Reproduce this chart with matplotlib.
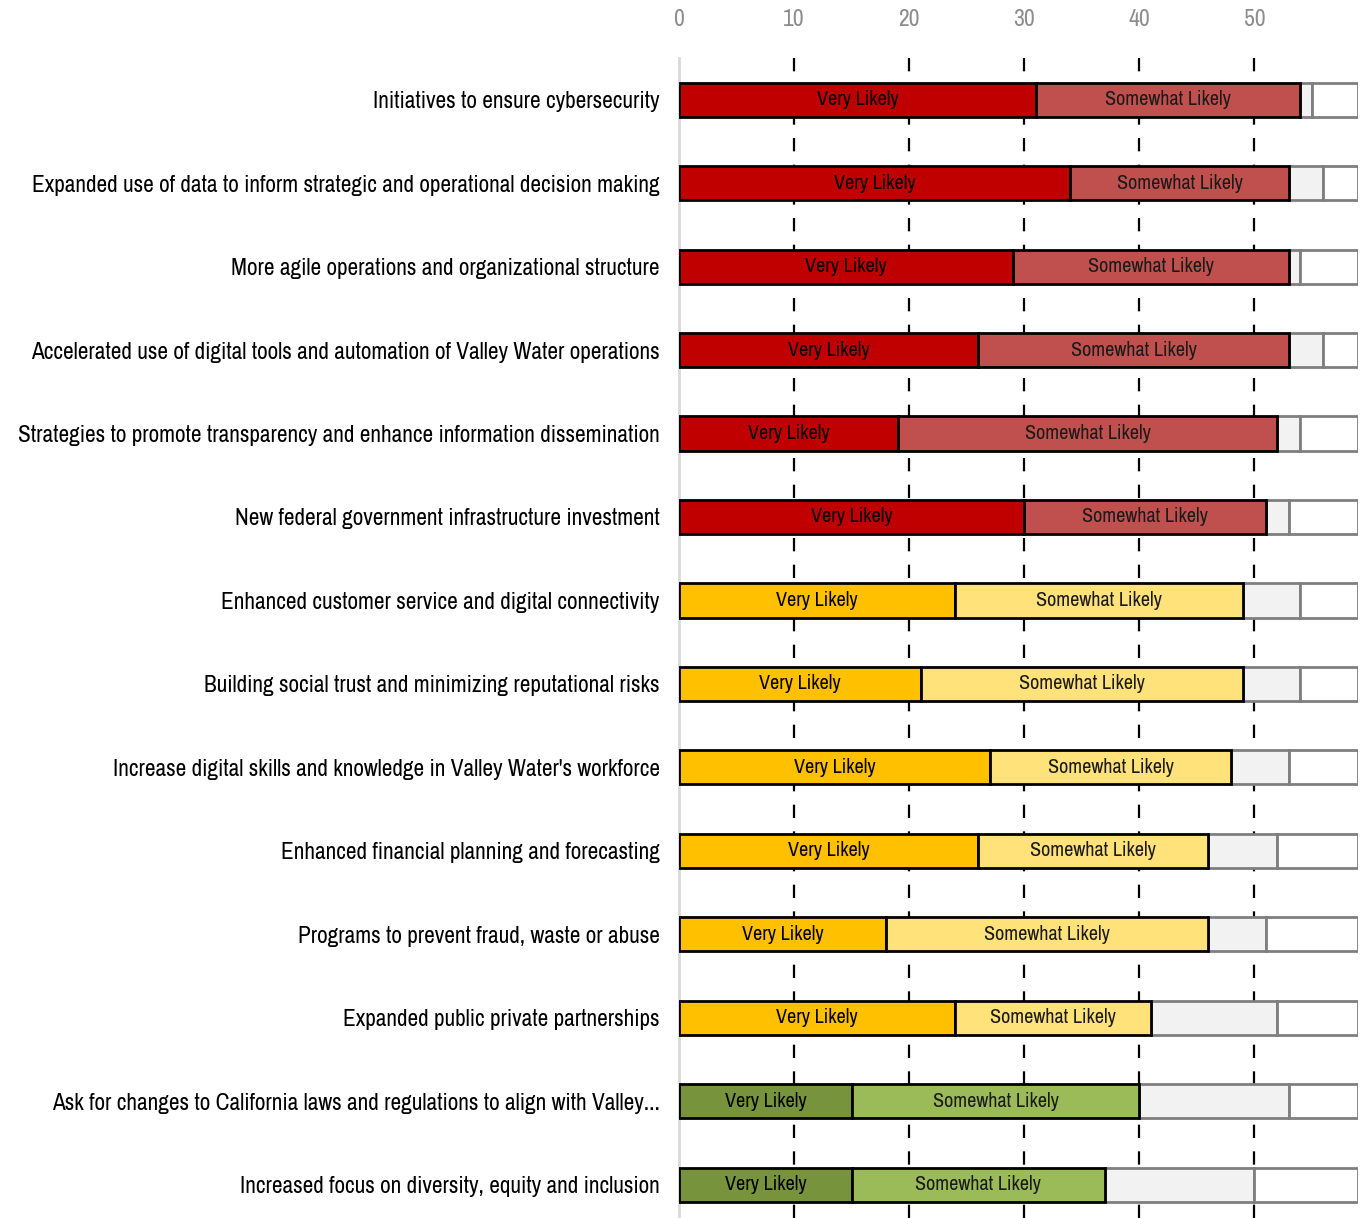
import numpy as np
import matplotlib
matplotlib.use('Agg')
import matplotlib.pyplot as plt
from matplotlib import font_manager

categories = ['Initiatives to ensure cybersecurity',
              'Expanded use of data to inform strategic and operational decision making',
              'More agile operations and organizational structure',
              'Accelerated use of digital tools and automation of Valley Water operations',
              'Strategies to promote transparency and enhance information dissemination',
              'New federal government infrastructure investment',
              'Enhanced customer service and digital connectivity',
              'Building social trust and minimizing reputational risks',
              "Increase digital skills and knowledge in Valley Water's workforce",
              'Enhanced financial planning and forecasting',
              'Programs to prevent fraud, waste or abuse',
              'Expanded public private partnerships',
              'Ask for changes to California laws and regulations to align with Valley...',
              'Increased focus on diversity, equity and inclusion']
very_likely = [31, 34, 29, 26, 19, 30, 24, 21, 27, 26, 18, 24, 15, 15]
somewhat_likely = [23, 19, 24, 27, 33, 21, 25, 28, 21, 20, 28, 17, 25, 22]
not_likely = [1, 3, 1, 3, 2, 2, 5, 5, 5, 6, 5, 11, 13, 13]
not_at_all = [4, 3, 5, 3, 5, 6, 5, 5, 6, 7, 8, 7, 6, 9]
tiers = ['red'] * 6 + ['yellow'] * 6 + ['green'] * 2

dark = {'red': '#C00000', 'yellow': '#FFC000', 'green': '#77933C'}
light = {'red': '#C0504D', 'yellow': '#FFE27A', 'green': '#9BBB59'}

# prefer a narrow face if one is installed
names = sorted({f.name for f in font_manager.fontManager.ttflist})
fam = 'Liberation Sans'
for n in names:
    if 'Narrow' in n or 'Condensed' in n:
        fam = n
        break

fig = plt.figure(figsize=(13.71, 12.18), dpi=100)
ax = fig.add_axes([679 / 1371, 0, 679 / 1371, 1 - 58 / 1218])

y = np.arange(len(categories))
vl = np.array(very_likely)
sl = np.array(somewhat_likely)
nl = np.array(not_likely)
na = np.array(not_at_all)
h = 0.41

b1 = ax.barh(y, vl, height=h, color=[dark[t] for t in tiers],
             edgecolor='black', linewidth=2, zorder=3)
b2 = ax.barh(y, sl, left=vl, height=h, color=[light[t] for t in tiers],
             edgecolor='black', linewidth=2, zorder=3)
ax.barh(y, nl, left=vl + sl, height=h, color='#F2F2F2',
        edgecolor='#7F7F7F', linewidth=2, zorder=2)
ax.barh(y, na, left=vl + sl + nl, height=h, color='white',
        edgecolor='#7F7F7F', linewidth=2, zorder=2)

ax.bar_label(b1, labels=['Very Likely'] * len(y), label_type='center',
             color='black', family=fam, fontsize=14.5)
ax.bar_label(b2, labels=['Somewhat Likely'] * len(y), label_type='center',
             color='#1a1a1a', family=fam, fontsize=14.5)

ax.set_xlim(0, 59)
ax.set_ylim(13.4, -0.5)
ax.set_xticks([0, 10, 20, 30, 40, 50])
ax.xaxis.tick_top()
ax.tick_params(axis='x', length=0, pad=20, labelsize=17, labelcolor='#8C8C8C')
for lbl in ax.get_xticklabels():
    lbl.set_family(fam)
ax.set_yticks(y)
ax.set_yticklabels(categories, fontsize=20, family=fam)
ax.tick_params(axis='y', length=0, pad=14)

# size the category labels so the longest one fits in the left margin
fig.canvas.draw()
r = fig.canvas.get_renderer()
widest = max(t.get_window_extent(r).width for t in ax.get_yticklabels())
fs = 20 * 643 / widest
for t in ax.get_yticklabels():
    t.set_fontsize(fs)

for x in [10, 20, 30, 40, 50]:
    ax.axvline(x, color='black', linestyle=(0, (6, 6)), linewidth=1.6, zorder=1)

for s in ['top', 'right', 'bottom']:
    ax.spines[s].set_visible(False)
ax.spines['left'].set_color('#D9D9D9')
ax.spines['left'].set_linewidth(2)

fig.savefig('out.png', dpi=100, facecolor='white')
